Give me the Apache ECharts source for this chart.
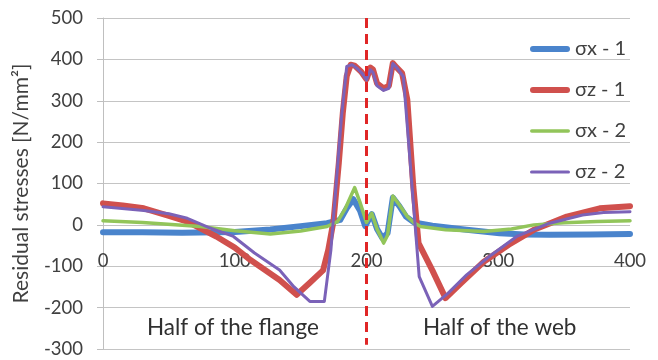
<!DOCTYPE html>
<html>
<head>
<meta charset="utf-8">
<script src="https://cdn.jsdelivr.net/npm/echarts@6/dist/echarts.min.js"></script>
<style>html,body{margin:0;padding:0;background:#fff}#c{width:658px;height:360px}</style>
</head>
<body>
<div id="c"></div>
<script>
var seriesNames = ['σx - 1', 'σz - 1', 'σx - 2', 'σz - 2'];
var xTicks = [0, 100, 200, 300, 400];
var yTicks = [-300, -200, -100, 0, 100, 200, 300, 400, 500];
var midLine = 200;

var sx1 = [[0,-18],[30,-18],[60,-19],[100,-17],[127,-11],[150,-3],[170,4],[180,12],[185,40],[190,62],[195,35],[199,-3],[204,26],[208,-10],[212,-32],[216,-20],[220,66],[225,45],[230,20],[236,6],[250,-2],[276,-12],[301,-20],[320,-23],[339,-24],[370,-23],[400,-22]];
var sz1 = [[0,52],[15,47],[31,40],[50,22],[64,8],[86,-28],[100,-55],[112,-85],[134,-133],[147,-169],[157,-140],[167,-110],[171,-60],[175,10],[179,150],[182,270],[185,360],[188,387],[191,385],[196,370],[200,352],[203,380],[205,375],[208,342],[213,330],[217,336],[220,391],[223,380],[227,367],[231,302],[235.5,93],[239.5,-44],[250,-110],[260,-177],[272,-140],[289,-89],[308,-48],[327,-12],[352,20],[377,40],[400,45]];
var sx2 = [[0,10],[30,6],[74,-4],[100,-14],[127,-22],[150,-15],[170,-4],[178,8],[184,40],[191,90],[195,55],[200,6],[204,28],[208,-10],[213,-44],[216,-25],[220,70],[225,48],[231,20],[236,5],[241,-4],[260,-12],[289,-16],[310,-10],[327,0],[350,5],[375,8],[400,10]];
var sz2 = [[0,44],[31,35],[50,27],[64,16],[80,-6],[99,-28],[115,-68],[134,-109],[145,-150],[157,-185],[168,-185],[173,-60],[177,100],[181,260],[185,383],[189,387],[193,378],[197,365],[200,350],[203,375],[205,368],[208,336],[213,325],[217,330],[220,390],[223,380],[228,358],[240,-125],[250,-197],[262,-165],[276,-121],[295,-72],[314,-28],[339,4],[364,24],[380,30],[400,32]];

var colors = ['#4a84cc', '#d0504d', '#92c55a', '#7b62b8'];
var widths = [6, 6, 3.5, 3];
var dataSets = [sx1, sz1, sx2, sz2];
var FONT = 'Lato, "Open Sans", sans-serif';

function barIcon(h) {
  var r = h / 2;
  return 'path://M' + r + ',0 L' + (40 - r) + ',0 A' + r + ',' + r + ' 0 0 1 ' + (40 - r) + ',' + h +
    ' L' + r + ',' + h + ' A' + r + ',' + r + ' 0 0 1 ' + r + ',0 Z';
}

var chart = echarts.init(document.getElementById('c'), null, {renderer: 'canvas'});
var series = seriesNames.map(function (n, i) {
  return {
    name: n, type: 'line', data: dataSets[i], showSymbol: false, symbol: 'none',
    smooth: false, z: 2 + i,
    lineStyle: {color: colors[i], width: widths[i], cap: 'round', join: 'round'},
    itemStyle: {color: colors[i]}
  };
});
series[0].markLine = {
  silent: true, symbol: 'none', label: {show: false},
  lineStyle: {color: '#e02626', width: 3, type: [10, 6]},
  data: [[{coord: [midLine, 500]}, {coord: [midLine, -290]}]],
  z: 10
};

chart.setOption({
  animation: false,
  backgroundColor: '#fff',
  textStyle: {fontFamily: FONT},
  grid: {left: 103, right: 28, top: 18, bottom: 11, containLabel: false},
  legend: {
    orient: 'vertical', left: 525, top: 34, itemWidth: 40, itemHeight: 14, itemGap: 21,
    symbolKeepAspect: true,
    data: seriesNames.map(function (n, i) {
      return {name: n, icon: barIcon(widths[i]), itemStyle: {color: colors[i]}};
    }),
    textStyle: {fontFamily: FONT, fontSize: 20, color: '#404040'}
  },
  xAxis: {
    type: 'value', min: xTicks[0], max: xTicks[xTicks.length - 1], interval: 100,
    position: 'bottom', offset: -100,
    axisLine: {show: false}, axisTick: {show: false}, splitLine: {show: false},
    axisLabel: {margin: 3, fontSize: 18.5, color: '#404040', fontFamily: FONT}
  },
  yAxis: {
    type: 'value', min: yTicks[0], max: yTicks[yTicks.length - 1], interval: 100,
    name: 'Residual stresses [N/mm²]', nameLocation: 'middle', nameRotate: 90, nameGap: 71,
    nameTextStyle: {fontSize: 21, color: '#404040', fontFamily: FONT},
    axisLine: {show: true, lineStyle: {color: '#bfbfbf', width: 1}},
    axisTick: {show: true, length: 6, lineStyle: {color: '#bfbfbf'}},
    splitLine: {show: true, lineStyle: {color: '#c4c4c4', width: 1}},
    axisLabel: {margin: 20, fontSize: 18.5, color: '#404040', fontFamily: FONT}
  },
  graphic: [
    {type: 'text', left: 147, top: 316, style: {text: 'Half of the flange', font: '22.5px ' + FONT, fill: '#303030'}},
    {type: 'text', left: 423, top: 316, style: {text: 'Half of the web', font: '22.5px ' + FONT, fill: '#303030'}}
  ],
  series: series
});
</script>
</body>
</html>
